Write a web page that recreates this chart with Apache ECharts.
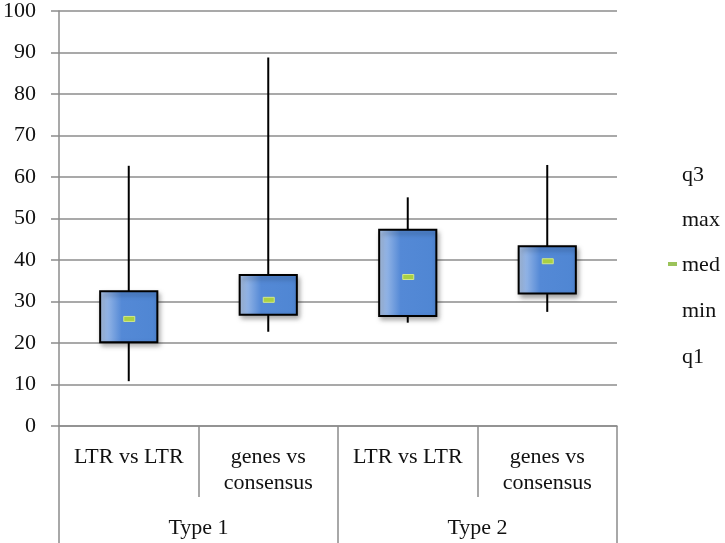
<!DOCTYPE html>
<html>
<head>
<meta charset="utf-8">
<script src="https://cdn.jsdelivr.net/npm/echarts@6/dist/echarts.min.js"></script>
<style>html,body{margin:0;padding:0;background:#fff}#c{width:725px;height:543px}</style>
</head>
<body>
<div id="c"></div>
<script>
var categories = ['LTR vs LTR', 'genes vs\nconsensus', 'LTR vs LTR', 'genes vs\nconsensus'];
var groups = ['Type 1', 'Type 2'];
var mins    = [10.8, 22.7, 24.9, 27.5];
var q1s     = [20.2, 26.8, 26.5, 31.9];
var medians = [25.8, 30.4, 35.9, 39.7];
var q3s     = [32.5, 36.4, 47.3, 43.3];
var maxs    = [62.7, 88.8, 55.1, 62.9];
var legendLabels = ['q3', 'max', 'med', 'min', 'q1'];

var FONT = '"Liberation Serif", "DejaVu Serif", serif';
var GRID = '#8c8c8c';

var chart = echarts.init(document.getElementById('c'), null, {renderer: 'canvas'});

var data = categories.map(function (c, i) {
  return [i, mins[i], q1s[i], medians[i], q3s[i], maxs[i]];
});

function renderItem(params, api) {
  var x = api.value(0);
  var pMin = api.coord([x, api.value(1)]);
  var pQ1 = api.coord([x, api.value(2)]);
  var pMed = api.coord([x, api.value(3)]);
  var pQ3 = api.coord([x, api.value(4)]);
  var pMax = api.coord([x, api.value(5)]);
  var bw = api.size([1, 0])[0] * 0.41;
  var cx = pMed[0];
  return {
    type: 'group',
    children: [
      {
        type: 'line',
        shape: {x1: cx, y1: pMax[1], x2: cx, y2: pMin[1]},
        style: {stroke: '#000', lineWidth: 2}
      },
      {
        type: 'rect',
        shape: {x: cx - bw / 2, y: pQ3[1], width: bw, height: pQ1[1] - pQ3[1]},
        style: {
          fill: new echarts.graphic.LinearGradient(0, 0, 1, 0, [
            {offset: 0, color: '#b6cdef'},
            {offset: 0.38, color: '#5489d6'},
            {offset: 1, color: '#4f86d3'}
          ]),
          stroke: '#000',
          lineWidth: 2,
          shadowBlur: 5,
          shadowOffsetX: 2,
          shadowOffsetY: 3,
          shadowColor: 'rgba(0,0,0,0.35)'
        }
      },
      {
        type: 'rect',
        shape: {x: cx - 5, y: pMed[1] - 2.5, width: 11, height: 5},
        style: {fill: '#a9d043', stroke: '#d2e98a', lineWidth: 1}
      }
    ]
  };
}

var legendY = [176, 221, 266, 312, 358];
var graphics = legendLabels.map(function (t, i) {
  return {
    type: 'text',
    left: 682,
    top: legendY[i] - 14,
    style: {text: t, font: '22px ' + FONT, fill: '#111', lineHeight: 27}
  };
});
graphics.push({
  type: 'rect',
  left: 668,
  top: legendY[2] - 4,
  shape: {width: 9, height: 4},
  style: {fill: '#9bc35a'}
});

chart.setOption({
  animation: false,
  grid: {left: 58, right: 108, top: 8, bottom: 117},
  xAxis: [
    {
      type: 'category',
      data: categories,
      position: 'bottom',
      axisLine: {show: true, lineStyle: {color: GRID, width: 1.5}},
      axisTick: {show: true, length: 71, interval: 0, lineStyle: {color: GRID, width: 1.5}},
      axisLabel: {
        interval: 0, margin: 18, color: '#111',
        fontFamily: FONT, fontSize: 22, lineHeight: 26, verticalAlign: 'top'
      },
      splitLine: {show: false}
    },
    {
      type: 'category',
      data: groups,
      position: 'bottom',
      gridIndex: 0,
      axisLine: {show: false},
      axisTick: {show: true, length: 117, interval: 0, lineStyle: {color: GRID, width: 1.5}},
      axisLabel: {
        interval: 0, margin: 89, color: '#111',
        fontFamily: FONT, fontSize: 22, lineHeight: 26, verticalAlign: 'top'
      },
      splitLine: {show: false}
    }
  ],
  yAxis: {
    type: 'value',
    min: 0, max: 100, interval: 10,
    axisLine: {show: true, lineStyle: {color: GRID, width: 1.5}},
    axisTick: {show: true, length: 8, lineStyle: {color: GRID, width: 1.5}},
    axisLabel: {margin: 23, color: '#111', fontFamily: FONT, fontSize: 22},
    splitLine: {show: true, lineStyle: {color: GRID, width: 1.5}}
  },
  graphic: graphics,
  series: [{
    type: 'custom',
    xAxisIndex: 0,
    yAxisIndex: 0,
    renderItem: renderItem,
    encode: {x: 0, y: [1, 2, 3, 4, 5]},
    data: data,
    z: 5
  }]
});
</script>
</body>
</html>
